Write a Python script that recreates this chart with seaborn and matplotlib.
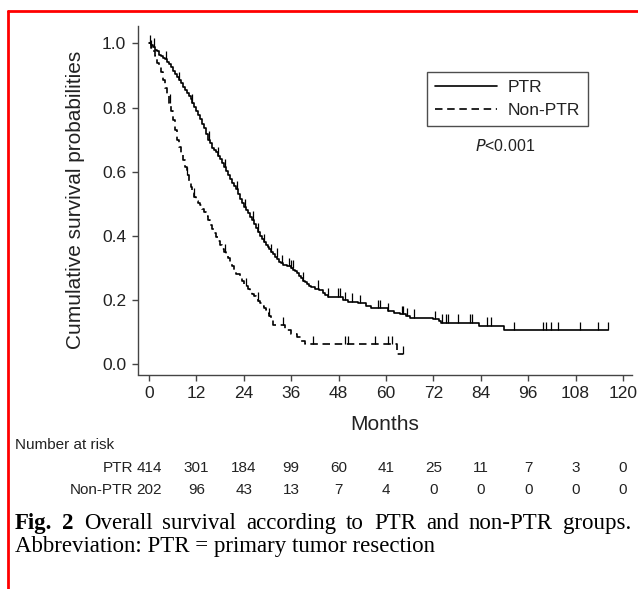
import numpy as np
import matplotlib
matplotlib.use("Agg")
import matplotlib.pyplot as plt
from matplotlib.lines import Line2D
import seaborn as sns

# Kaplan-Meier step points (months, survival)
ptr_t = [0, 0.5, 1, 1.5, 2, 2.5, 3, 3.5, 4, 4.5, 5, 5.5, 6, 6.5, 7, 7.5, 8, 8.5,
         9, 9.5, 10, 10.5, 11, 11.5, 12, 12.5, 13, 13.5, 14, 14.5, 15, 15.5, 16,
         16.5, 17, 17.5, 18, 18.5, 19, 19.5, 20, 20.5, 21, 21.5, 22, 22.5, 23,
         23.5, 24, 24.5, 25, 25.5, 26, 26.5, 27, 27.5, 28, 28.5, 29, 29.5, 30,
         30.5, 31, 31.5, 32, 32.5, 33, 33.5, 34, 35, 36, 36.5, 37, 37.5, 38,
         38.5, 39, 39.5, 40, 40.5, 41, 42, 43, 44, 44.5, 45.3, 49, 50.5, 53, 55,
         56.3, 60.5, 62, 63.5, 65, 66, 72, 73.5, 74, 83.5, 90, 116.1]
ptr_s = [1.0, 0.995, 0.99, 0.98, 0.975, 0.965, 0.96, 0.955, 0.95, 0.943, 0.935,
         0.925, 0.915, 0.905, 0.895, 0.885, 0.875, 0.865, 0.855, 0.845, 0.835,
         0.825, 0.815, 0.803, 0.79, 0.778, 0.765, 0.75, 0.735, 0.718, 0.70,
         0.688, 0.675, 0.667, 0.66, 0.65, 0.64, 0.628, 0.615, 0.603, 0.59, 0.578,
         0.565, 0.555, 0.545, 0.53, 0.515, 0.503, 0.49, 0.48, 0.47, 0.46, 0.45,
         0.438, 0.425, 0.413, 0.40, 0.39, 0.38, 0.373, 0.365, 0.358, 0.35, 0.343,
         0.335, 0.328, 0.32, 0.315, 0.31, 0.305, 0.30, 0.295, 0.29, 0.283, 0.275,
         0.268, 0.26, 0.255, 0.25, 0.245, 0.24, 0.235, 0.23, 0.222, 0.215, 0.21,
         0.20, 0.195, 0.19, 0.18, 0.175, 0.165, 0.16, 0.155, 0.15, 0.145, 0.14,
         0.135, 0.13, 0.12, 0.106, 0.106]

non_t = [0, 0.5, 1, 1.5, 2, 2.5, 3, 3.5, 4, 4.5, 5, 5.5, 6, 6.5, 7, 7.5, 8, 8.5,
         9, 9.5, 10, 10.5, 11, 11.5, 12, 12.5, 13, 13.5, 14, 14.5, 15, 15.5, 16,
         16.5, 17, 17.5, 18, 18.5, 19, 19.5, 20, 20.5, 21, 21.5, 22, 23, 23.5,
         24, 24.5, 25, 25.5, 26, 26.5, 27, 27.5, 28, 28.5, 29, 29.5, 30, 30.5,
         31, 31.5, 34.5, 36, 37.5, 38.5, 39.5, 62.7, 64.3]
non_s = [1.0, 0.985, 0.975, 0.96, 0.94, 0.925, 0.91, 0.885, 0.86, 0.835, 0.815,
         0.79, 0.76, 0.73, 0.70, 0.678, 0.655, 0.635, 0.615, 0.59, 0.57, 0.552,
         0.535, 0.522, 0.51, 0.503, 0.495, 0.485, 0.475, 0.462, 0.45, 0.435,
         0.42, 0.408, 0.395, 0.383, 0.37, 0.36, 0.35, 0.34, 0.33, 0.318, 0.305,
         0.292, 0.28, 0.27, 0.26, 0.25, 0.243, 0.235, 0.228, 0.22, 0.213, 0.205,
         0.198, 0.19, 0.183, 0.175, 0.168, 0.16, 0.15, 0.14, 0.122, 0.107,
         0.095, 0.085, 0.072, 0.062, 0.031, 0.031]

# censoring times
ptr_cens = [0.3, 1.2, 4.2, 7.5, 11, 15.2, 17.5, 19.2, 22.3, 24.2, 26.3, 27.6,
            29.2, 31, 32.3, 33.6, 35.5, 36, 36.4, 39.1, 42.9, 45.4, 47.9, 48.4,
            49.6, 51.3, 53.4, 58.1, 58.4, 60.6, 64, 64.4, 65.2, 67, 72.4, 74.1,
            75.3, 75.8, 78.3, 81.3, 81.9, 85.5, 86.5, 92.4, 99.8, 100.4, 101.7,
            103.6, 109.1, 113.6, 116.1]
non_cens = [0.6, 5.2, 9.5, 11.5, 19.2, 24.5, 27.5, 30.5, 34, 41.6, 49.6, 50.5,
            57.2, 60.6, 61.4, 64.3]

risk_months = [0, 12, 24, 36, 48, 60, 72, 84, 96, 108, 120]
risk_ptr = [414, 301, 184, 99, 60, 41, 25, 11, 7, 3, 0]
risk_non = [202, 96, 43, 13, 7, 4, 0, 0, 0, 0, 0]

sns.set_style("ticks")
plt.rcParams['font.family'] = ['Liberation Sans', 'DejaVu Sans']

fig = plt.figure(figsize=(6.38, 5.89), dpi=100)
ax = fig.add_axes([138 / 638, 1 - 374.5 / 589, 494 / 638, 348.5 / 589])

dash = (0, (4.5, 2.8))
sns.lineplot(x=ptr_t, y=ptr_s, ax=ax, color='black', lw=1.2,
             drawstyle='steps-post', estimator=None, sort=False, label='PTR')
sns.lineplot(x=non_t, y=non_s, ax=ax, color='black', lw=1.2, linestyle=dash,
             drawstyle='steps-post', estimator=None, sort=False, label='Non-PTR')


def step_at(tt, ss, x):
    i = np.searchsorted(tt, x, side='right') - 1
    return np.asarray(ss)[i]


h = 0.026
ys = step_at(ptr_t, ptr_s, ptr_cens)
ax.vlines(ptr_cens, ys, ys + h, color='black', lw=0.9)
ys = step_at(non_t, non_s, non_cens)
ax.vlines(non_cens, ys, ys + h, color='black', lw=0.9)

ax.set_xlim(-2.8, 122.3)
ax.set_ylim(-0.032, 1.054)
ax.set_xticks(risk_months)
ax.set_yticks([0.0, 0.2, 0.4, 0.6, 0.8, 1.0])
ax.set_yticklabels(['0.0', '0.2', '0.4', '0.6', '0.8', '1.0'])
sns.despine(ax=ax)
for sp in ['left', 'bottom']:
    ax.spines[sp].set_color('#444444')
    ax.spines[sp].set_linewidth(1.0)
ax.tick_params(length=4, width=1, color='#444444', labelsize=12.5,
               labelcolor='#222222', pad=4.5)
ax.set_xlabel('Months', fontsize=15, color='#222222', labelpad=10)
ax.set_ylabel('Cumulative survival probabilities', fontsize=15,
              color='#222222', labelpad=12)

leg = ax.legend(loc='upper left', bbox_to_anchor=(427 / 638, 1 - 72 / 589),
                bbox_transform=fig.transFigure, frameon=True, fancybox=False,
                fontsize=12.5, handlelength=3.6, handletextpad=0.6,
                borderpad=0.45, labelspacing=0.45, borderaxespad=0)
leg.get_frame().set_edgecolor('#222222')
leg.get_frame().set_linewidth(1.0)
for t in leg.get_texts():
    t.set_color('#222222')

fig.text(505 / 638, 1 - 146 / 589, r'$\mathit{P}$<0.001', ha='center',
         va='center', fontsize=11.5, color='#222222')

# number at risk table
fs = 11
fig.text(15 / 638, 1 - 445 / 589, 'Number at risk', fontsize=fs,
         va='center', color='#222222')
for lab, vals, yy in [('PTR', risk_ptr, 468), ('Non-PTR', risk_non, 490)]:
    fig.text(133 / 638, 1 - yy / 589, lab, fontsize=fs, ha='right',
             va='center', color='#222222')
    for m, v in zip(risk_months, vals):
        ax.annotate(str(v), xy=(m, 1 - yy / 589),
                    xycoords=('data', 'figure fraction'),
                    ha='center', va='center', fontsize=fs, color='#222222',
                    annotation_clip=False)

# caption, first line justified
cap_fs = 16.5
serif = ['Liberation Serif', 'DejaVu Serif']
words = [('Fig.', 'bold'), ('2', 'bold'), ('Overall', 'normal'),
         ('survival', 'normal'), ('according', 'normal'), ('to', 'normal'),
         ('PTR', 'normal'), ('and', 'normal'), ('non-PTR', 'normal'),
         ('groups.', 'normal')]
renderer = fig.canvas.get_renderer()
arts = []
for w, wt in words:
    t = fig.text(0, 1 - 529 / 589, w, fontsize=cap_fs, fontweight=wt,
                 family=serif, va='baseline', color='black')
    arts.append(t)
widths = [a.get_window_extent(renderer).width for a in arts]
x0, x1 = 15.0, 631.0
gap = (x1 - x0 - sum(widths)) / (len(words) - 1)
xpos = x0
for a, w in zip(arts, widths):
    a.set_x(xpos / 638)
    xpos += w + gap
fig.text(15 / 638, 1 - 552 / 589, 'Abbreviation: PTR = primary tumor resection',
         fontsize=cap_fs, family=serif, va='baseline', color='black')

# red frame
fig.add_artist(Line2D([8 / 638, 1], [1 - 11 / 589] * 2, color='#ff0000', lw=2,
                      transform=fig.transFigure))
fig.add_artist(Line2D([8 / 638] * 2, [0, 1 - 11 / 589], color='#ff0000', lw=2,
                      transform=fig.transFigure))

fig.savefig('out.png', dpi=100)
